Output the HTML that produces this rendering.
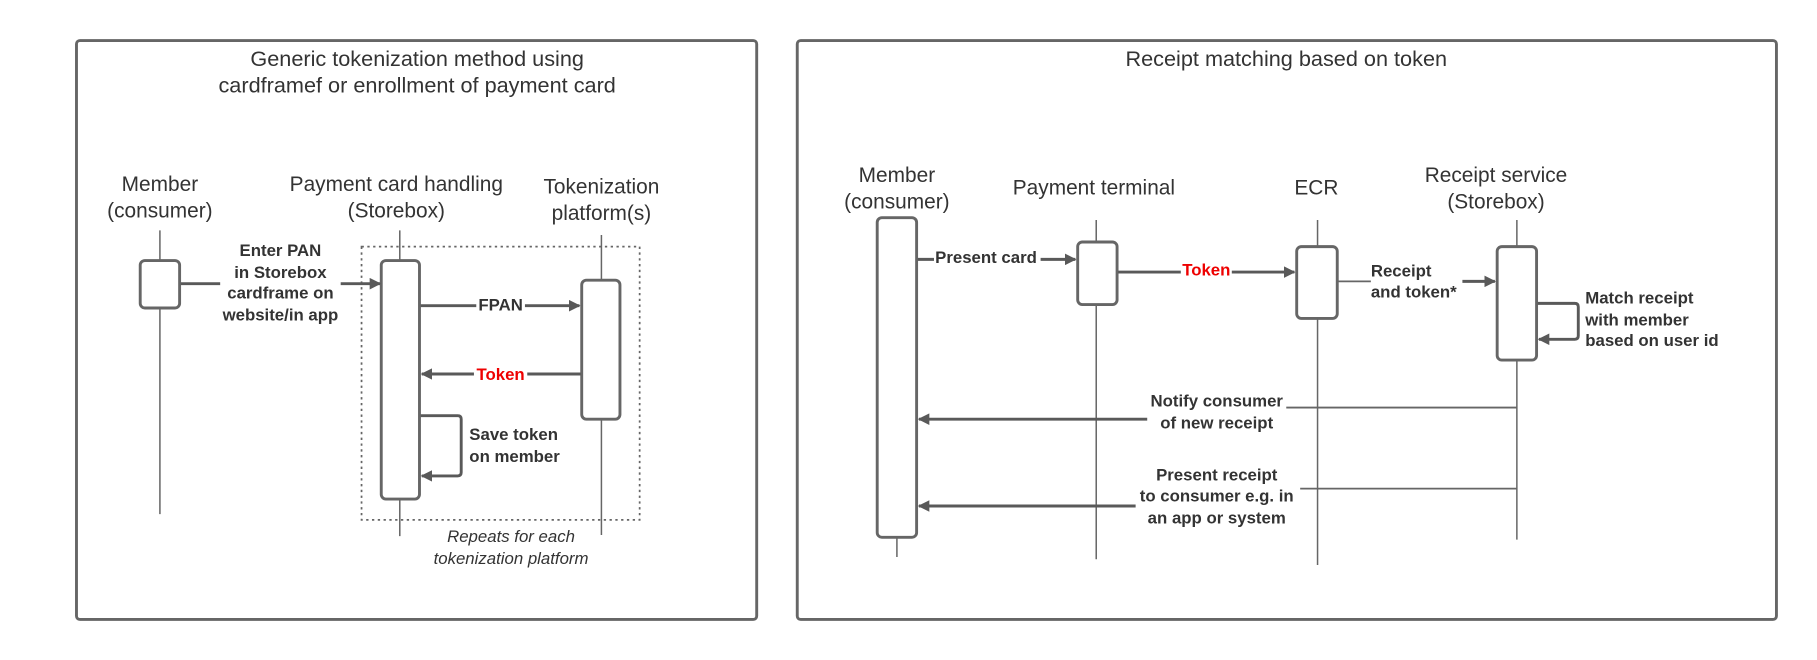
<!DOCTYPE html>
<html><head><meta charset="utf-8"><style>
html,body{margin:0;padding:0;background:#fff;}
svg{display:block;}
text{font-family:"Liberation Sans",sans-serif;fill:#333;}
.t{font-size:18px;}
.tt{font-size:18.7px;}
.b{font-size:14.5px;font-weight:bold;}
.i{font-size:14.5px;font-style:italic;}
</style></head><body>
<svg width="1817" height="660" viewBox="0 0 1568 570" preserveAspectRatio="none" xmlns="http://www.w3.org/2000/svg">
<defs>
<marker id="a" markerWidth="10" markerHeight="10" refX="9" refY="5" orient="auto" markerUnits="userSpaceOnUse" viewBox="0 0 10 10">
<path d="M0,0 L10,5 L0,10 z" fill="#595959"/></marker>
</defs>
<g fill="none" stroke="#666" stroke-width="2.5">
<rect x="66" y="35" width="587" height="500" rx="3"/>
<rect x="688" y="35" width="845" height="500" rx="3"/>
</g>
<g text-anchor="middle" class="t">
<text class="tt" x="360" y="57">Generic tokenization method using</text>
<text class="tt" x="360" y="80">cardframef or enrollment of payment card</text>
<text x="138" y="165">Member</text><text x="138" y="188">(consumer)</text>
<text x="342" y="165">Payment card handling</text><text x="342" y="188">(Storebox)</text>
<text x="519" y="167">Tokenization</text><text x="519" y="190">platform(s)</text>
<text class="tt" x="1110" y="57">Receipt matching based on token</text>
<text x="774" y="157">Member</text><text x="774" y="180">(consumer)</text>
<text x="944" y="168">Payment terminal</text>
<text x="1136" y="168">ECR</text>
<text x="1291" y="157">Receipt service</text><text x="1291" y="180">(Storebox)</text>
</g>
<g stroke="#666" stroke-width="1.3">
<line x1="138" y1="199" x2="138" y2="444"/>
<line x1="345" y1="199" x2="345" y2="463"/>
<line x1="519" y1="203" x2="519" y2="462"/>
<line x1="774" y1="190" x2="774" y2="481"/>
<line x1="946" y1="190" x2="946" y2="483"/>
<line x1="1137" y1="190" x2="1137" y2="488"/>
<line x1="1309" y1="190" x2="1309" y2="466"/>
</g>
<rect x="312" y="213" width="240" height="236" fill="none" stroke="#666" stroke-width="1.5" stroke-dasharray="2,3"/>
<g fill="#fff" stroke="#666" stroke-width="2.5">
<rect x="121" y="225" width="34" height="41" rx="4"/>
<rect x="329" y="225" width="33" height="206" rx="4"/>
<rect x="502" y="242" width="33" height="120" rx="4"/>
<rect x="757" y="188" width="34" height="276" rx="4"/>
<rect x="930" y="209" width="34" height="54" rx="4"/>
<rect x="1119" y="213" width="35" height="62" rx="4"/>
<rect x="1292" y="213" width="34" height="98" rx="4"/>
</g>
<g fill="none" stroke="#595959" stroke-width="2.5">
<line x1="156" y1="245" x2="190" y2="245"/>
<line x1="294" y1="245" x2="328" y2="245" marker-end="url(#a)"/>
<line x1="363" y1="264" x2="500" y2="264" marker-end="url(#a)"/>
<line x1="501" y1="323" x2="364" y2="323" marker-end="url(#a)"/>
<path d="M363,359 H395 Q398,359 398,362 V408 Q398,411 395,411 H364" marker-end="url(#a)"/>
<line x1="792" y1="224" x2="928" y2="224" marker-end="url(#a)"/>
<line x1="965" y1="235" x2="1117" y2="235" marker-end="url(#a)"/>
<line x1="1262" y1="243" x2="1290" y2="243" marker-end="url(#a)"/>
<path d="M1327,262 H1359 Q1362,262 1362,265 V290 Q1362,293 1359,293 H1328" marker-end="url(#a)"/>
<line x1="990" y1="362" x2="793" y2="362" marker-end="url(#a)"/>
<line x1="980" y1="437" x2="793" y2="437" marker-end="url(#a)"/>
</g>
<g stroke="#666" stroke-width="1.6">
<line x1="1155" y1="243" x2="1183" y2="243"/>
<line x1="1309" y1="352" x2="1110" y2="352"/>
<line x1="1309" y1="422" x2="1122" y2="422"/>
</g>
<g fill="#fff">
<rect x="411" y="255" width="42" height="18"/>
<rect x="409" y="314" width="46" height="18"/>
<rect x="806" y="214" width="92" height="18"/>
<rect x="1019" y="225" width="44" height="18"/>
</g>
<g class="b">
<text x="242" y="221" text-anchor="middle">Enter PAN</text>
<text x="242" y="240" text-anchor="middle">in Storebox</text>
<text x="242" y="258" text-anchor="middle">cardframe on</text>
<text x="242" y="277" text-anchor="middle">website/in app</text>
<text x="432" y="268" text-anchor="middle">FPAN</text>
<text x="432" y="328" text-anchor="middle" style="fill:#e00">Token</text>
<text x="405" y="380">Save token</text>
<text x="405" y="399">on member</text>
<text x="807" y="227">Present card</text>
<text x="1041" y="238" text-anchor="middle" style="fill:#e00">Token</text>
<text x="1183" y="239">Receipt</text>
<text x="1183" y="257">and token*</text>
<text x="1368" y="262">Match receipt</text>
<text x="1368" y="281">with member</text>
<text x="1368" y="299">based on user id</text>
<text x="1050" y="351" text-anchor="middle">Notify consumer</text>
<text x="1050" y="370" text-anchor="middle">of new receipt</text>
<text x="1050" y="415" text-anchor="middle">Present receipt</text>
<text x="1050" y="433" text-anchor="middle">to consumer e.g. in</text>
<text x="1050" y="452" text-anchor="middle">an app or system</text>
</g>
<g class="i" text-anchor="middle">
<text x="441" y="468">Repeats for each</text>
<text x="441" y="487">tokenization platform</text>
</g>
</svg>
</body></html>
